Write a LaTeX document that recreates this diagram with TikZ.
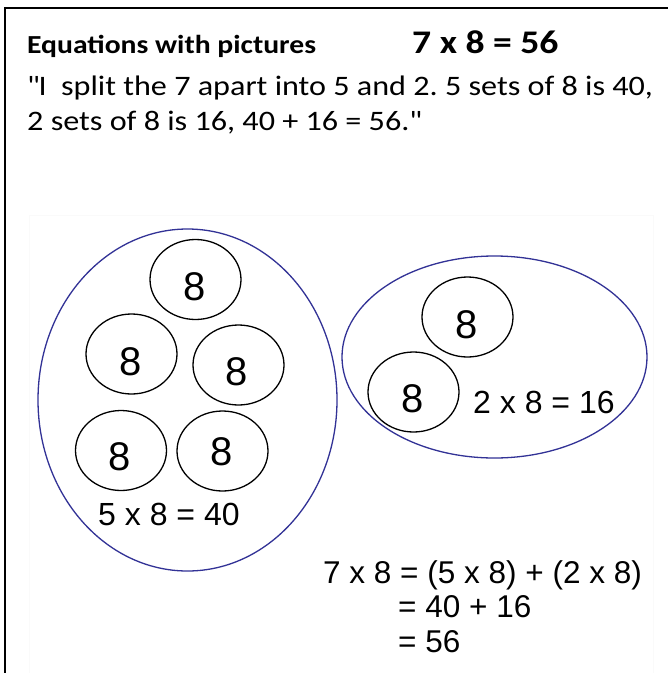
\documentclass[tikz,border=0pt]{standalone}
\usepackage{fontspec}
\setmainfont{Liberation Sans}
\newfontfamily\calfont{Carlito}[FakeStretch=1.14]
\usetikzlibrary{shapes.geometric}
\definecolor{setblue}{RGB}{50,50,150}
\newcommand\qd{\XeTeXglyph\XeTeXcharglyph"22\relax}
\frenchspacing
\begin{document}
\begin{tikzpicture}[x=1pt,y=-1pt,
  bigset/.style={draw=setblue, line width=1.3pt, ellipse, inner sep=0pt},
  group/.style={draw=black, line width=1.3pt, ellipse, inner sep=0pt, minimum width=91pt, minimum height=80pt},
  digit/.style={anchor=base, inner sep=0pt, font=\fontsize{40}{48}\selectfont},
  eqn/.style={anchor=base west, inner sep=0pt, font=\fontsize{31.5}{36}\selectfont},
  head/.style={anchor=base west, inner sep=0pt, font=\calfont\fontsize{28.2}{34}\selectfont}]
\useasboundingbox (0,0) rectangle (668,673);
% frame
\fill[black!2] (29,215) rectangle (654,673);
\fill[white] (30,216) rectangle (653,673);
\draw[line width=2pt] (5,673) -- (5,8) -- (668,8);
% header
\node[head, font=\calfont\bfseries\fontsize{26}{30}\selectfont] (title) at (27,53) {Equations with pictures};
\node[head, font=\calfont\bfseries\fontsize{33}{40}\selectfont] (prod) at (412,53) {7 x 8 = 56};
\node[head] (line1) at (27,95) {\frenchspacing\qd I\ \ split the 7 apart into 5 and 2. 5 sets of 8 is 40,};
\node[head] (line2) at (27,130) {2 sets of 8 is 16, 40 + 16 = 56.\qd};
% left set
\node[bigset, minimum width=299pt, minimum height=342pt] (setA) at (187.5,400) {};
\node[group] (a1) at (195.5,279.5) {};
\node[group] (a2) at (131.5,354) {};
\node[group] (a3) at (238.5,365) {};
\node[group] (a4) at (121,450.5) {};
\node[group] (a5) at (222.5,451) {};
\node[digit] (d1) at (195,300) {8};
\node[digit] (d2) at (131,375) {8};
\node[digit] (d3) at (237,385) {8};
\node[digit] (d4) at (120,470) {8};
\node[digit] (d5) at (222,465) {8};
\node[eqn, font=\fontsize{32}{38}\selectfont] (labA) at (98,525) {5 x 8 = 40};
% right set
\node[bigset, minimum width=305pt, minimum height=202pt] (setB) at (494.5,357) {};
\node[group] (b1) at (467.5,317) {};
\node[group] (b2) at (413.5,392) {};
\node[digit] (e1) at (467,338) {8};
\node[digit] (e2) at (413,412) {8};
\node[eqn, font=\fontsize{32}{38}\selectfont] (labB) at (473,413) {2 x 8 = 16};
% total
\node[eqn] (t1) at (323,583) {7 x 8 = (5 x 8) + (2 x 8)};
\node[eqn] (t2) at (398,617) {= 40 + 16};
\node[eqn] (t3) at (398,652) {= 56};
\end{tikzpicture}
\end{document}
